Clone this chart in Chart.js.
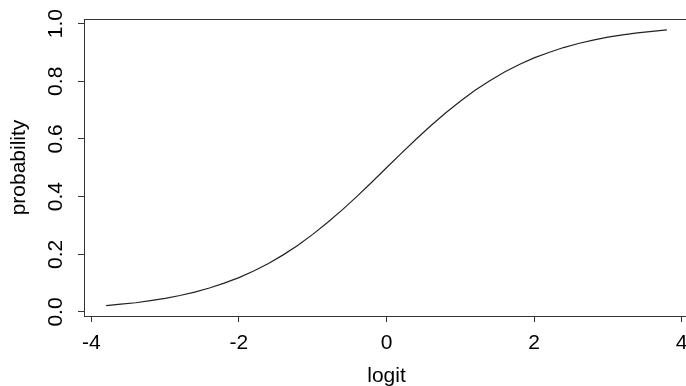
<!DOCTYPE html>
<html>
<head>
<meta charset="utf-8">
<script src="https://cdn.jsdelivr.net/npm/chart.js@4"></script>
<style>
  html, body { margin: 0; padding: 0; background: #fff; overflow: hidden; }
  #wrap { width: 686px; height: 386px; overflow: hidden; }
</style>
</head>
<body>
<div id="wrap">
  <canvas id="curve" width="720" height="386" style="width:720px;height:386px"></canvas>
</div>
<script>
// values
const logitValues = [-3.8, -3.6, -3.4, -3.2, -3.0, -2.8, -2.6, -2.4, -2.2, -2.0,
    -1.8, -1.6, -1.4, -1.2, -1.0, -0.8, -0.6, -0.4, -0.2, 0.0,
    0.2, 0.4, 0.6, 0.8, 1.0, 1.2, 1.4, 1.6, 1.8, 2.0,
    2.2, 2.4, 2.6, 2.8, 3.0, 3.2, 3.4, 3.6, 3.8];
const probValues = [0.022, 0.027, 0.032, 0.039, 0.047, 0.057, 0.069, 0.083, 0.100, 0.119,
    0.142, 0.168, 0.198, 0.231, 0.269, 0.310, 0.354, 0.401, 0.450, 0.500,
    0.550, 0.599, 0.646, 0.690, 0.731, 0.769, 0.802, 0.832, 0.858, 0.881,
    0.900, 0.917, 0.931, 0.943, 0.953, 0.961, 0.968, 0.973, 0.978];
const xTicks = [-4, -2, 0, 2, 4];
const yTicks = [0.0, 0.2, 0.4, 0.6, 0.8, 1.0];
const yTickLabels = ['0.0', '0.2', '0.4', '0.6', '0.8', '1.0'];

const FONT = "'Liberation Sans', Arial, Helvetica, sans-serif";
const FONT_SIZE = 21;
const INK = '#333';

// box around the plot region + rotated y tick labels (R style)
const rStylePlugin = {
    id: 'rStyle',
    afterDraw(chart) {
        const ctx = chart.ctx;
        const a = chart.chartArea;
        ctx.save();
        ctx.strokeStyle = INK;
        ctx.lineWidth = 1;
        ctx.strokeRect(Math.round(a.left) + 0.5, Math.round(a.top) + 0.5,
            Math.round(a.right - a.left), Math.round(a.bottom - a.top));

        const yScale = chart.scales.y;
        ctx.fillStyle = '#000';
        ctx.font = FONT_SIZE + 'px ' + FONT;
        ctx.textAlign = 'center';
        ctx.textBaseline = 'middle';
        yTicks.forEach((v, i) => {
            const py = yScale.getPixelForValue(v);
            ctx.save();
            ctx.translate(56, py);
            ctx.rotate(-Math.PI / 2);
            ctx.fillText(yTickLabels[i], 0, 0);
            ctx.restore();
        });
        ctx.restore();
    }
};

const ctx = document.getElementById('curve').getContext('2d');
new Chart(ctx, {
    type: 'line',
    data: {
        datasets: [{
            data: logitValues.map((x, i) => ({ x: x, y: probValues[i] })),
            borderColor: '#222',
            borderWidth: 1.2,
            pointRadius: 0,
            fill: false,
            tension: 0
        }]
    },
    options: {
        responsive: false,
        animation: false,
        layout: { padding: { left: 0, right: 31, top: 19, bottom: 0 } },
        plugins: {
            legend: { display: false },
            tooltip: { enabled: false }
        },
        scales: {
            x: {
                type: 'linear',
                min: -4.1,
                max: 4.1,
                afterBuildTicks(scale) {
                    scale.ticks = xTicks.map(v => ({ value: v }));
                },
                afterFit(scale) { scale.height = 70; },
                grid: { drawOnChartArea: false, drawTicks: true, tickLength: 6, color: INK },
                border: { display: true, color: INK },
                ticks: {
                    color: '#000',
                    font: { family: FONT, size: FONT_SIZE },
                    padding: 9,
                    maxRotation: 0,
                    callback: v => String(v)
                },
                title: {
                    display: true,
                    text: 'logit',
                    color: '#000',
                    font: { family: FONT, size: FONT_SIZE },
                    padding: { top: 0, bottom: -3 }
                }
            },
            y: {
                min: -0.014,
                max: 1.016,
                afterBuildTicks(scale) {
                    scale.ticks = yTicks.map(v => ({ value: v }));
                },
                afterFit(scale) { scale.width = 84; },
                grid: { drawOnChartArea: false, drawTicks: true, tickLength: 6, color: INK },
                border: { display: true, color: INK },
                ticks: { display: false },
                title: {
                    display: true,
                    text: 'probability',
                    color: '#000',
                    font: { family: FONT, size: FONT_SIZE },
                    padding: { top: 7, bottom: 0 }
                }
            }
        }
    },
    plugins: [rStylePlugin]
});
</script>
</body>
</html>
